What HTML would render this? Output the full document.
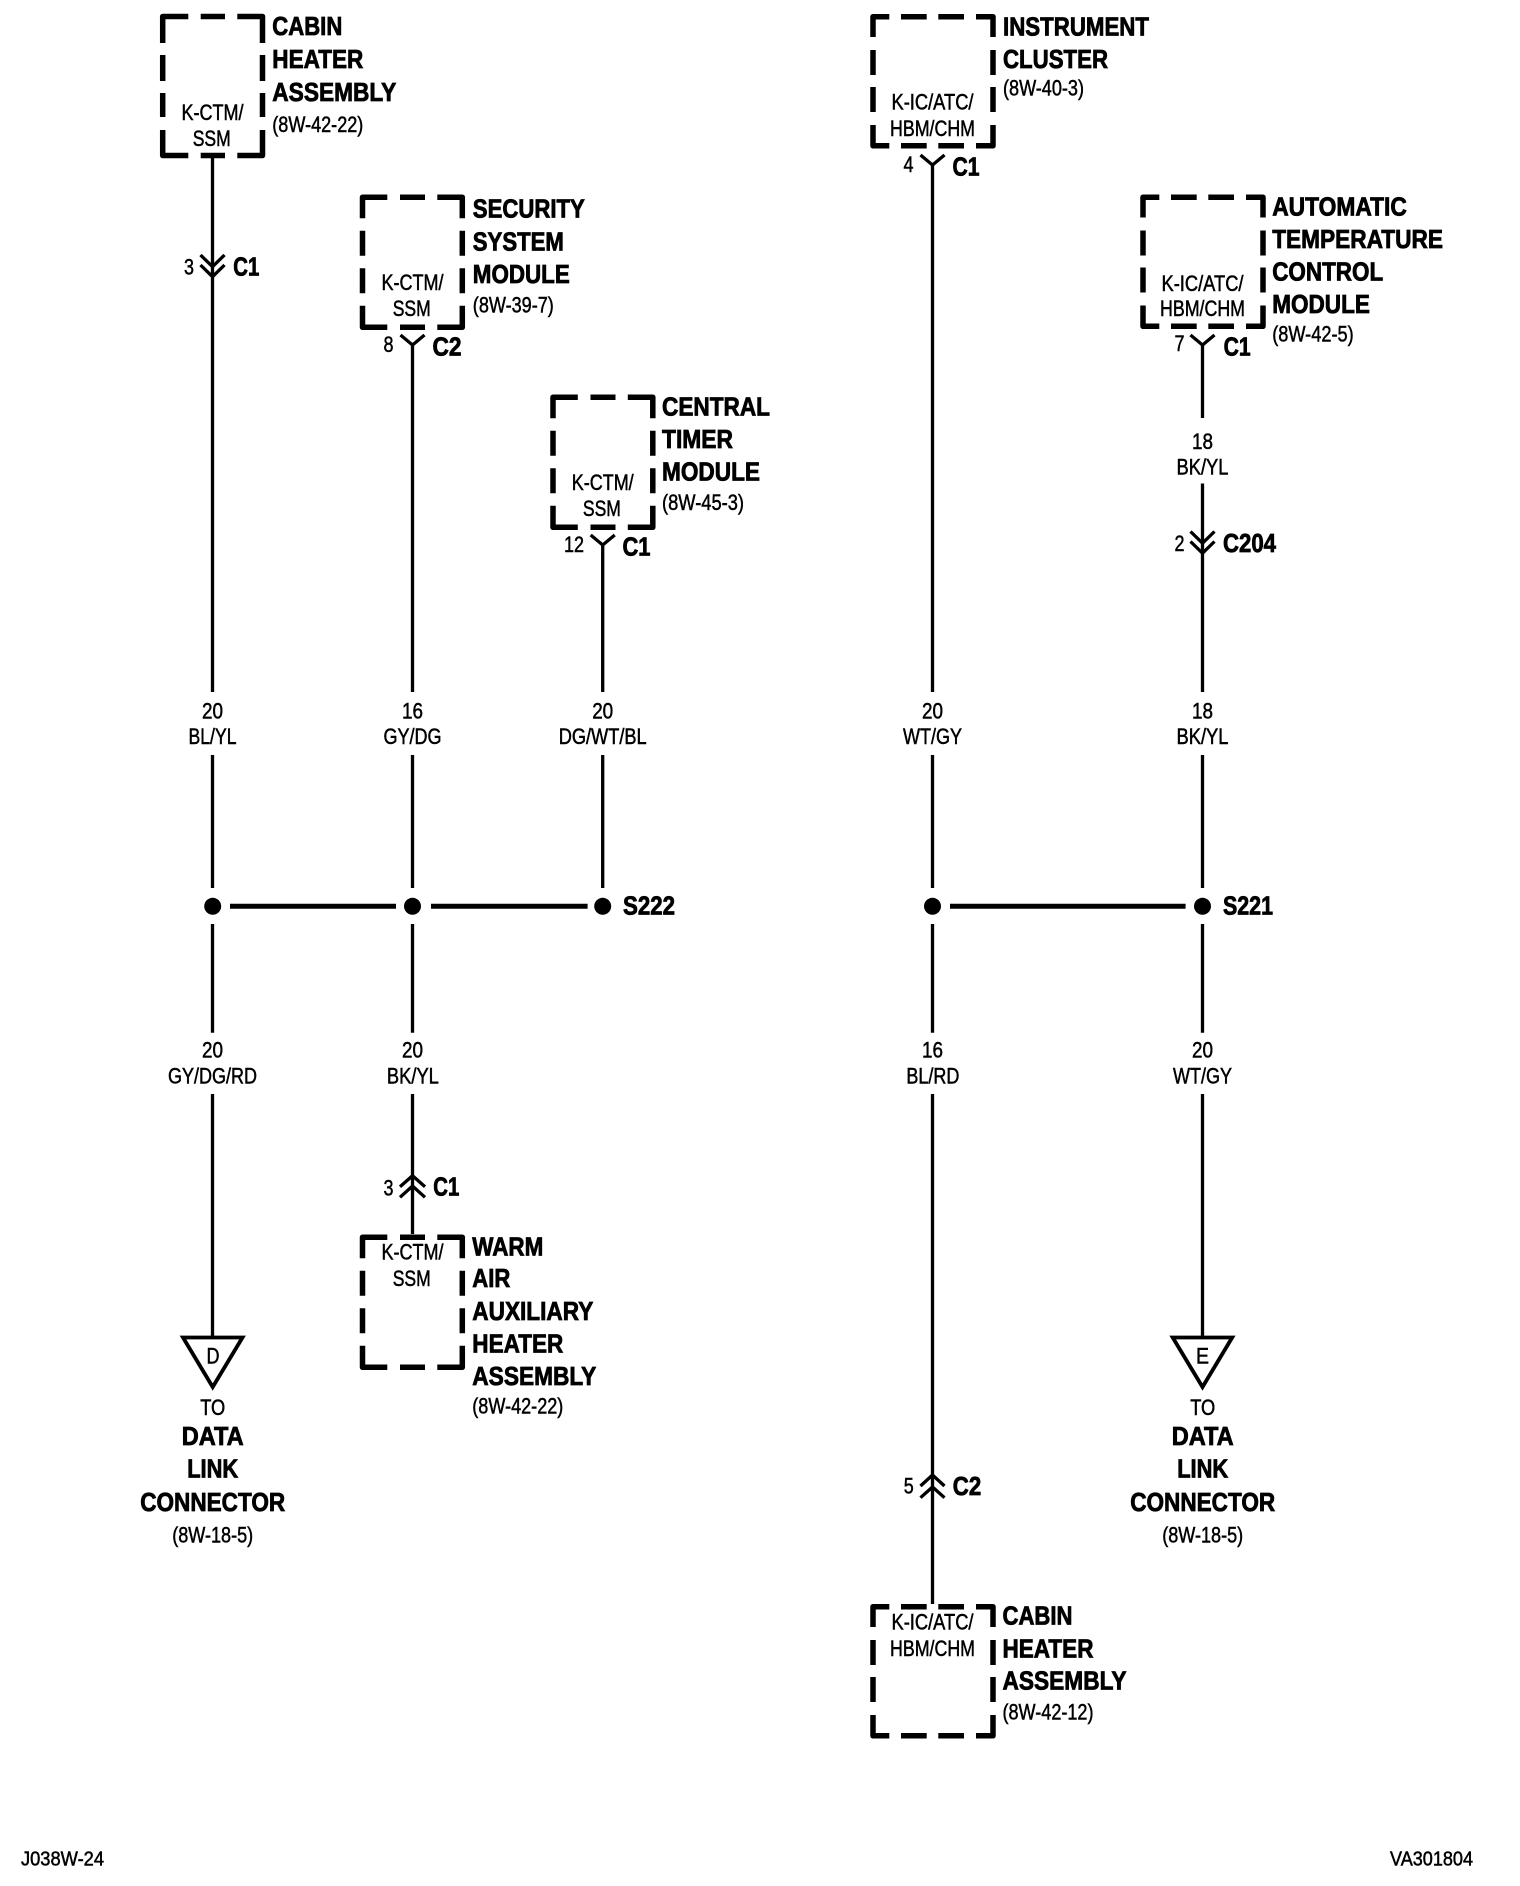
<!DOCTYPE html>
<html><head><meta charset="utf-8"><style>
html,body{margin:0;padding:0;background:#fff}
svg{display:block}
text{font-family:"Liberation Sans",Arial,sans-serif;fill:#000}
.h{font-size:26px;font-weight:bold;stroke:#000;stroke-width:.8px;transform:translateY(-1px)}
.s{font-size:22px;stroke:#000;stroke-width:.5px;transform:translateY(-.5px)}
.m{text-anchor:middle}
.b{fill:none;stroke:#000;stroke-width:5.5;stroke-linejoin:round}
.w{fill:none;stroke:#000;stroke-width:3.3}
.t{fill:none;stroke:#000;stroke-width:3.8}
.bus{fill:none;stroke:#000;stroke-width:5}
</style></head><body>
<svg xmlns="http://www.w3.org/2000/svg" width="1520" height="1886" viewBox="0 0 1520 1886">
<rect width="1520" height="1886" fill="#fff"/>

<!-- boxes -->
<path class="b" d="M162.7 43V16.5H188.3M200.7 16.5H225M237.3 16.5H262.5V43M162.7 55V81M262.5 55V81M162.7 93V117M262.5 93V117M162.7 130V155.5H188.3M200.7 155.5H225M237.3 155.5H262.5V130"/>
<path class="b" d="M362.5 218.3V197.2H387.3M400 197.2H425M437.3 197.2H462.3V218.3M362.5 230.7V255.7M462.3 230.7V255.7M362.5 268.3V293.3M462.3 268.3V293.3M362.5 305.7V327.3H387.3M400 327.3H425M437.3 327.3H462.3V305.7"/>
<path class="b" transform="translate(190.5,200)" d="M362.5 218.3V197.2H387.3M400 197.2H425M437.3 197.2H462.3V218.3M362.5 230.7V255.7M462.3 230.7V255.7M362.5 268.3V293.3M462.3 268.3V293.3M362.5 305.7V327.3H387.3M400 327.3H425M437.3 327.3H462.3V305.7"/>
<path class="b" transform="translate(0,1040)" d="M362.5 218.3V197.2H387.3M400 197.2H425M437.3 197.2H462.3V218.3M362.5 230.7V255.7M462.3 230.7V255.7M362.5 268.3V293.3M462.3 268.3V293.3M362.5 305.7V327.3H387.3M400 327.3H425M437.3 327.3H462.3V305.7"/>
<path class="b" d="M873 37V16.7H889.3M901 16.7H926.7M938.3 16.7H964M976 16.7H993V37M873 50V75M993 50V75M873 87V112M993 87V112M873 125V145.8H889.3M901 145.8H926.7M938.3 145.8H964M976 145.8H993V125"/>
<path class="b" transform="translate(270,180.5)" d="M873 37V16.7H889.3M901 16.7H926.7M938.3 16.7H964M976 16.7H993V37M873 50V75M993 50V75M873 87V112M993 87V112M873 125V145.8H889.3M901 145.8H926.7M938.3 145.8H964M976 145.8H993V125"/>
<path class="b" transform="translate(0,1590)" d="M873 37V16.7H889.3M901 16.7H926.7M938.3 16.7H964M976 16.7H993V37M873 50V75M993 50V75M873 87V112M993 87V112M873 125V145.8H889.3M901 145.8H926.7M938.3 145.8H964M976 145.8H993V125"/>

<!-- wires -->
<path class="w" d="M212.5 158V692M212.5 755V888M212.5 924V1032.7M212.5 1094V1337"/>
<path class="w" d="M412.5 345V692M412.5 755V888M412.5 924V1032.7M412.5 1094V1234"/>
<path class="w" d="M602.7 545V692M602.7 755V888"/>
<path class="w" d="M932.5 165V692M932.5 755V888M932.5 924V1032.7M932.5 1094V1604"/>
<path class="w" d="M1202.5 345V418M1202.5 483.5V692M1202.5 755V888M1202.5 924V1032.7M1202.5 1094V1337"/>

<!-- connectors -->
<path class="w" d="M200.5 255L212.5 266.7L224.5 255M200.5 265L212.5 276.7L224.5 265"/>
<path class="w" d="M400.5 335L412.5 345L424.5 335"/>
<path class="w" d="M590.7 535L602.7 545L614.7 535"/>
<path class="w" d="M400 1186.7L412.5 1175.7L425 1186.7M400 1197.3L412.5 1186L425 1197.3"/>
<path class="w" d="M920.5 155L932.5 165L944.5 155"/>
<path class="w" d="M1190.5 335L1202.5 345L1214.5 335"/>
<path class="w" d="M1190.5 531.5L1202.5 543.2L1214.5 531.5M1190.5 541.5L1202.5 553.2L1214.5 541.5"/>
<path class="w" d="M920.5 1486L932.5 1475L944.5 1486M920.5 1497.7L932.5 1487L944.5 1497.7"/>

<!-- bus -->
<path class="bus" d="M230 906.3H396M431 906.3H587.6M950 906.3H1185.6"/>
<circle cx="212.7" cy="906.3" r="8.5"/><circle cx="412.5" cy="906.3" r="8.5"/><circle cx="602.7" cy="906.3" r="8.5"/>
<circle cx="932.5" cy="906.3" r="8.5"/><circle cx="1202.5" cy="906.3" r="8.5"/>

<!-- triangles -->
<path class="t" d="M183 1337.5H242.5L212.7 1387Z"/>
<path class="t" d="M1172.7 1337.5H1232.2L1202.5 1387Z"/>

<!-- box 1 text -->
<text class="h" x="272.3" y="36" textLength="70" lengthAdjust="spacingAndGlyphs">CABIN</text>
<text class="h" x="272.3" y="69" textLength="91" lengthAdjust="spacingAndGlyphs">HEATER</text>
<text class="h" x="272.3" y="102" textLength="124" lengthAdjust="spacingAndGlyphs">ASSEMBLY</text>
<text class="s" x="272.3" y="132.7" textLength="91" lengthAdjust="spacingAndGlyphs">(8W-42-22)</text>
<text class="s m" x="212.5" y="120.7" textLength="62" lengthAdjust="spacingAndGlyphs">K-CTM/</text>
<text class="s m" x="211.7" y="146.7" textLength="38" lengthAdjust="spacingAndGlyphs">SSM</text>
<text class="s m" x="189" y="275" textLength="10" lengthAdjust="spacingAndGlyphs">3</text>
<text class="h" x="233.3" y="276.7" textLength="26" lengthAdjust="spacingAndGlyphs">C1</text>

<!-- security -->
<text class="h" x="472.8" y="218.3" textLength="112" lengthAdjust="spacingAndGlyphs">SECURITY</text>
<text class="h" x="472.8" y="251.7" textLength="91" lengthAdjust="spacingAndGlyphs">SYSTEM</text>
<text class="h" x="472.8" y="284" textLength="97" lengthAdjust="spacingAndGlyphs">MODULE</text>
<text class="s" x="472.8" y="313" textLength="81" lengthAdjust="spacingAndGlyphs">(8W-39-7)</text>
<text class="s m" x="412.5" y="290.7" textLength="62" lengthAdjust="spacingAndGlyphs">K-CTM/</text>
<text class="s m" x="411.7" y="316.7" textLength="38" lengthAdjust="spacingAndGlyphs">SSM</text>
<text class="s m" x="388.5" y="352.7" textLength="10" lengthAdjust="spacingAndGlyphs">8</text>
<text class="h" x="432.5" y="356.7" textLength="29" lengthAdjust="spacingAndGlyphs">C2</text>

<!-- central timer -->
<text class="h" x="662" y="416.5" textLength="108" lengthAdjust="spacingAndGlyphs">CENTRAL</text>
<text class="h" x="662" y="449.2" textLength="71" lengthAdjust="spacingAndGlyphs">TIMER</text>
<text class="h" x="662" y="481.5" textLength="98" lengthAdjust="spacingAndGlyphs">MODULE</text>
<text class="s" x="662" y="510.5" textLength="82" lengthAdjust="spacingAndGlyphs">(8W-45-3)</text>
<text class="s m" x="602.7" y="490.7" textLength="62" lengthAdjust="spacingAndGlyphs">K-CTM/</text>
<text class="s m" x="601.9" y="516.7" textLength="38" lengthAdjust="spacingAndGlyphs">SSM</text>
<text class="s m" x="574" y="552.7" textLength="20" lengthAdjust="spacingAndGlyphs">12</text>
<text class="h" x="622.5" y="556.7" textLength="28" lengthAdjust="spacingAndGlyphs">C1</text>

<!-- wire labels top -->
<text class="s m" x="212.5" y="719" textLength="21" lengthAdjust="spacingAndGlyphs">20</text>
<text class="s m" x="212.5" y="744.7" textLength="48" lengthAdjust="spacingAndGlyphs">BL/YL</text>
<text class="s m" x="412.5" y="719" textLength="21" lengthAdjust="spacingAndGlyphs">16</text>
<text class="s m" x="412.5" y="744.7" textLength="58" lengthAdjust="spacingAndGlyphs">GY/DG</text>
<text class="s m" x="602.7" y="719" textLength="21" lengthAdjust="spacingAndGlyphs">20</text>
<text class="s m" x="602.7" y="744.7" textLength="88" lengthAdjust="spacingAndGlyphs">DG/WT/BL</text>
<text class="s m" x="932.5" y="719" textLength="21" lengthAdjust="spacingAndGlyphs">20</text>
<text class="s m" x="932.5" y="744.7" textLength="59" lengthAdjust="spacingAndGlyphs">WT/GY</text>
<text class="s m" x="1202.5" y="719" textLength="21" lengthAdjust="spacingAndGlyphs">18</text>
<text class="s m" x="1202.5" y="744.7" textLength="52" lengthAdjust="spacingAndGlyphs">BK/YL</text>
<text class="s m" x="1202.5" y="449.3" textLength="21" lengthAdjust="spacingAndGlyphs">18</text>
<text class="s m" x="1202.5" y="475" textLength="52" lengthAdjust="spacingAndGlyphs">BK/YL</text>

<!-- splices -->
<text class="h" x="623" y="915.7" textLength="52" lengthAdjust="spacingAndGlyphs">S222</text>
<text class="h" x="1223" y="915.7" textLength="50" lengthAdjust="spacingAndGlyphs">S221</text>

<!-- wire labels bottom -->
<text class="s m" x="212.5" y="1058" textLength="21" lengthAdjust="spacingAndGlyphs">20</text>
<text class="s m" x="212.5" y="1084" textLength="89" lengthAdjust="spacingAndGlyphs">GY/DG/RD</text>
<text class="s m" x="412.5" y="1058" textLength="21" lengthAdjust="spacingAndGlyphs">20</text>
<text class="s m" x="412.9" y="1084" textLength="52" lengthAdjust="spacingAndGlyphs">BK/YL</text>
<text class="s m" x="932.5" y="1058" textLength="21" lengthAdjust="spacingAndGlyphs">16</text>
<text class="s m" x="932.9" y="1084" textLength="53" lengthAdjust="spacingAndGlyphs">BL/RD</text>
<text class="s m" x="1202.5" y="1058" textLength="21" lengthAdjust="spacingAndGlyphs">20</text>
<text class="s m" x="1202.5" y="1084" textLength="59" lengthAdjust="spacingAndGlyphs">WT/GY</text>

<!-- warm air -->
<text class="s m" x="388.5" y="1196" textLength="10" lengthAdjust="spacingAndGlyphs">3</text>
<text class="h" x="433.3" y="1196.7" textLength="26" lengthAdjust="spacingAndGlyphs">C1</text>
<text class="s m" x="412.5" y="1260" textLength="62" lengthAdjust="spacingAndGlyphs">K-CTM/</text>
<text class="s m" x="411.7" y="1286.7" textLength="38" lengthAdjust="spacingAndGlyphs">SSM</text>
<text class="h" x="472.3" y="1256.7" textLength="71" lengthAdjust="spacingAndGlyphs">WARM</text>
<text class="h" x="472.3" y="1288" textLength="38" lengthAdjust="spacingAndGlyphs">AIR</text>
<text class="h" x="472.3" y="1321" textLength="121" lengthAdjust="spacingAndGlyphs">AUXILIARY</text>
<text class="h" x="472.3" y="1353.3" textLength="91" lengthAdjust="spacingAndGlyphs">HEATER</text>
<text class="h" x="472.3" y="1386" textLength="124" lengthAdjust="spacingAndGlyphs">ASSEMBLY</text>
<text class="s" x="472.3" y="1414" textLength="91" lengthAdjust="spacingAndGlyphs">(8W-42-22)</text>

<!-- data link left -->
<text class="s m" x="213" y="1364" textLength="13" lengthAdjust="spacingAndGlyphs">D</text>
<text class="s m" x="212.7" y="1415.5" textLength="25" lengthAdjust="spacingAndGlyphs">TO</text>
<text class="h m" x="212.7" y="1446" textLength="62" lengthAdjust="spacingAndGlyphs">DATA</text>
<text class="h m" x="212.7" y="1478.5" textLength="51" lengthAdjust="spacingAndGlyphs">LINK</text>
<text class="h m" x="212.7" y="1512" textLength="145" lengthAdjust="spacingAndGlyphs">CONNECTOR</text>
<text class="s m" x="212.7" y="1543" textLength="81" lengthAdjust="spacingAndGlyphs">(8W-18-5)</text>

<!-- data link right -->
<text class="s m" x="1202.5" y="1364" textLength="13" lengthAdjust="spacingAndGlyphs">E</text>
<text class="s m" x="1202.7" y="1415.5" textLength="25" lengthAdjust="spacingAndGlyphs">TO</text>
<text class="h m" x="1202.7" y="1446" textLength="62" lengthAdjust="spacingAndGlyphs">DATA</text>
<text class="h m" x="1202.7" y="1478.5" textLength="51" lengthAdjust="spacingAndGlyphs">LINK</text>
<text class="h m" x="1202.7" y="1512" textLength="145" lengthAdjust="spacingAndGlyphs">CONNECTOR</text>
<text class="s m" x="1202.7" y="1543" textLength="81" lengthAdjust="spacingAndGlyphs">(8W-18-5)</text>

<!-- instrument cluster -->
<text class="h" x="1003" y="36.7" textLength="146" lengthAdjust="spacingAndGlyphs">INSTRUMENT</text>
<text class="h" x="1003" y="69" textLength="105" lengthAdjust="spacingAndGlyphs">CLUSTER</text>
<text class="s" x="1003" y="96" textLength="81" lengthAdjust="spacingAndGlyphs">(8W-40-3)</text>
<text class="s m" x="932.5" y="110" textLength="82" lengthAdjust="spacingAndGlyphs">K-IC/ATC/</text>
<text class="s m" x="932.5" y="136.7" textLength="85" lengthAdjust="spacingAndGlyphs">HBM/CHM</text>
<text class="s m" x="908.5" y="172.3" textLength="10" lengthAdjust="spacingAndGlyphs">4</text>
<text class="h" x="952.5" y="176.7" textLength="27" lengthAdjust="spacingAndGlyphs">C1</text>

<!-- ATC -->
<text class="h" x="1272.2" y="216.7" textLength="134.6" lengthAdjust="spacingAndGlyphs">AUTOMATIC</text>
<text class="h" x="1272.2" y="249" textLength="170.8" lengthAdjust="spacingAndGlyphs">TEMPERATURE</text>
<text class="h" x="1272.2" y="281.7" textLength="111" lengthAdjust="spacingAndGlyphs">CONTROL</text>
<text class="h" x="1272.2" y="314" textLength="97.7" lengthAdjust="spacingAndGlyphs">MODULE</text>
<text class="s" x="1272.2" y="342" textLength="81.5" lengthAdjust="spacingAndGlyphs">(8W-42-5)</text>
<text class="s m" x="1202.5" y="291.7" textLength="82" lengthAdjust="spacingAndGlyphs">K-IC/ATC/</text>
<text class="s m" x="1202.5" y="316.7" textLength="85" lengthAdjust="spacingAndGlyphs">HBM/CHM</text>
<text class="s m" x="1179.5" y="351.7" textLength="10" lengthAdjust="spacingAndGlyphs">7</text>
<text class="h" x="1223.6" y="356.7" textLength="27" lengthAdjust="spacingAndGlyphs">C1</text>
<text class="s m" x="1179.5" y="551.5" textLength="10" lengthAdjust="spacingAndGlyphs">2</text>
<text class="h" x="1223" y="553.2" textLength="53" lengthAdjust="spacingAndGlyphs">C204</text>

<!-- lower cabin heater -->
<text class="s m" x="908.8" y="1494" textLength="10" lengthAdjust="spacingAndGlyphs">5</text>
<text class="h" x="952.8" y="1496" textLength="28.4" lengthAdjust="spacingAndGlyphs">C2</text>
<text class="s m" x="932.5" y="1630" textLength="82" lengthAdjust="spacingAndGlyphs">K-IC/ATC/</text>
<text class="s m" x="932.5" y="1656.7" textLength="85" lengthAdjust="spacingAndGlyphs">HBM/CHM</text>
<text class="h" x="1002.5" y="1625.7" textLength="70" lengthAdjust="spacingAndGlyphs">CABIN</text>
<text class="h" x="1002.5" y="1658.3" textLength="91" lengthAdjust="spacingAndGlyphs">HEATER</text>
<text class="h" x="1002.5" y="1690.7" textLength="124" lengthAdjust="spacingAndGlyphs">ASSEMBLY</text>
<text class="s" x="1002.5" y="1720" textLength="91" lengthAdjust="spacingAndGlyphs">(8W-42-12)</text>

<!-- footer -->
<text class="s" x="21" y="1866" style="font-size:20px" textLength="83" lengthAdjust="spacingAndGlyphs">J038W-24</text>
<text class="s" x="1390" y="1866" style="font-size:20px" textLength="83" lengthAdjust="spacingAndGlyphs">VA301804</text>
</svg>
</body></html>
